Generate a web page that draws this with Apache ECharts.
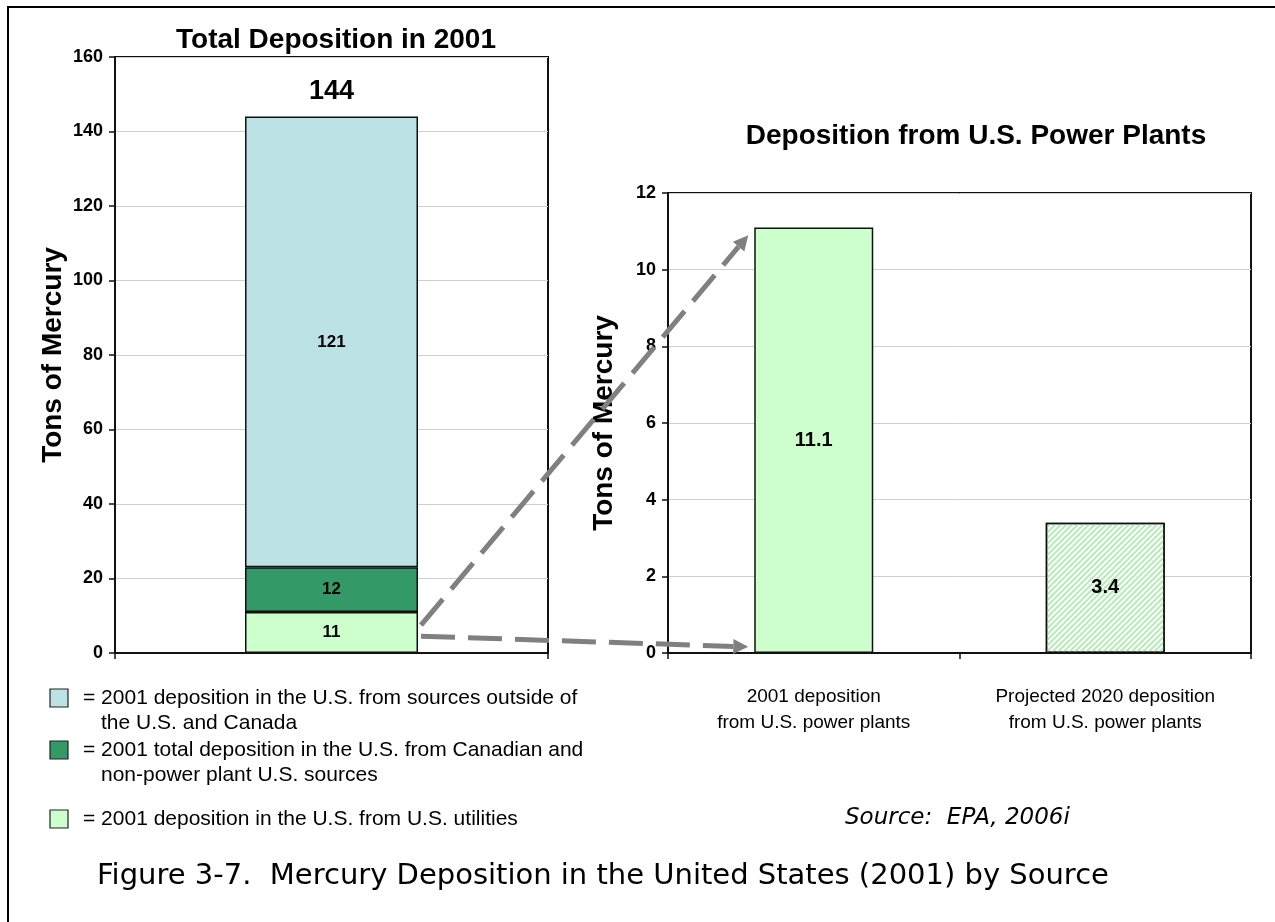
<!DOCTYPE html>
<html>
<head>
<meta charset="utf-8">
<title>Mercury Deposition in the United States (2001) by Source</title>
<script src="https://cdn.jsdelivr.net/npm/echarts@6/dist/echarts.min.js"></script>
<style>
  html, body { margin: 0; padding: 0; background: #fff; }
  #chart { width: 1275px; height: 922px; }
</style>
</head>
<body>
<div id="chart"></div>
<script>
// ---- data -------------------------------------------------------------
const totalCategories = ['2001'];
const outsideUSCanada = [121];      // sources outside the U.S. and Canada
const canadianNonPower = [12];      // Canadian and non-power plant U.S. sources
const usUtilities = [11];           // U.S. utilities

const plantCategories = [
  '2001 deposition\nfrom U.S. power plants',
  'Projected 2020 deposition\nfrom U.S. power plants'
];
const plantDeposition = [11.1, 3.4];

const leftAxisMax = 160, leftAxisStep = 20;
const rightAxisMax = 12, rightAxisStep = 2;

const legendLines = [
  ['= 2001 deposition in the U.S. from sources outside of', 'the U.S. and Canada'],
  ['= 2001 total deposition in the U.S. from Canadian and', 'non-power plant U.S. sources'],
  ['= 2001 deposition in the U.S. from U.S. utilities']
];
const sourceNote = 'Source:  EPA, 2006i';
const figureCaption = 'Figure 3-7.  Mercury Deposition in the United States (2001) by Source';

// ---- styles -----------------------------------------------------------
const COLORS = { outside: '#bde2e5', canadian: '#339966', utilities: '#ccffcc', hatch: '#b5ebb5' };
const SANS = '"Liberation Sans", Arial, sans-serif';
const VERDANA = '"DejaVu Sans", Verdana, sans-serif';

const totals = totalCategories.map((_, i) => outsideUSCanada[i] + canadianNonPower[i] + usUtilities[i]);

const chart = echarts.init(document.getElementById('chart'), null, { renderer: 'canvas' });

function valueAxis(gridIndex, max, step) {
  return {
    type: 'value', gridIndex, min: 0, max, interval: step,
    name: 'Tons of Mercury', nameLocation: 'middle',
    nameGap: gridIndex === 0 ? 48 : 50,
    nameTextStyle: { fontFamily: SANS, fontWeight: 'bold', fontSize: 28, color: '#000' },
    axisLine: { show: true, lineStyle: { color: '#111', width: 2 } },
    axisTick: { show: true, length: 6, lineStyle: { color: '#111', width: 1.5 } },
    axisLabel: { fontFamily: SANS, fontWeight: 'bold', fontSize: 18, color: '#000', margin: 12 },
    splitLine: { show: true, lineStyle: { color: '#cfcfcf', width: 1 } }
  };
}

function categoryAxis(gridIndex, data, showLabels) {
  return {
    type: 'category', gridIndex, data,
    axisLine: { show: true, lineStyle: { color: '#111', width: 2 } },
    axisTick: { show: true, length: 6, alignWithLabel: false, lineStyle: { color: '#111', width: 1.5 } },
    axisLabel: {
      show: showLabels, fontFamily: SANS, fontSize: 19, color: '#000',
      lineHeight: 26, margin: 31
    }
  };
}

const barBorder = { borderColor: '#111', borderWidth: 1.5 };
const innerLabel = { show: true, position: 'inside', fontFamily: SANS, fontWeight: 'bold', fontSize: 17, color: '#000' };
const plantLabel = Object.assign({}, innerLabel, { fontSize: 20 });
const titleStyle = { fontFamily: SANS, fontWeight: 'bold', fontSize: 28, color: '#000' };

chart.setOption({
  animation: false,
  backgroundColor: '#fff',
  title: [
    { text: 'Total Deposition in 2001', left: 331, top: 21, textAlign: 'center', textStyle: titleStyle },
    { text: 'Deposition from U.S. Power Plants', left: 971, top: 117, textAlign: 'center', textStyle: titleStyle }
  ],
  grid: [
    { left: 115, top: 57, width: 433, height: 596, show: true, borderColor: '#111', borderWidth: 2, backgroundColor: 'transparent' },
    { left: 668, top: 193, width: 583, height: 460, show: true, borderColor: '#111', borderWidth: 2, backgroundColor: 'transparent' }
  ],
  xAxis: [
    categoryAxis(0, totalCategories, false),
    categoryAxis(1, plantCategories, true)
  ],
  yAxis: [
    valueAxis(0, leftAxisMax, leftAxisStep),
    valueAxis(1, rightAxisMax, rightAxisStep)
  ],
  series: [
    {
      name: 'U.S. utilities', type: 'bar', xAxisIndex: 0, yAxisIndex: 0, stack: 'total',
      barWidth: 173, data: usUtilities,
      itemStyle: Object.assign({ color: COLORS.utilities }, barBorder), label: innerLabel
    },
    {
      name: 'Canadian and non-power plant U.S. sources', type: 'bar', xAxisIndex: 0, yAxisIndex: 0, stack: 'total',
      barWidth: 173, data: canadianNonPower,
      itemStyle: Object.assign({ color: COLORS.canadian }, barBorder), label: innerLabel
    },
    {
      name: 'Sources outside the U.S. and Canada', type: 'bar', xAxisIndex: 0, yAxisIndex: 0, stack: 'total',
      barWidth: 173, data: outsideUSCanada,
      itemStyle: Object.assign({ color: COLORS.outside }, barBorder), label: innerLabel
    },
    {
      // total printed above the stacked column
      name: 'Total', type: 'scatter', xAxisIndex: 0, yAxisIndex: 0,
      symbolSize: 0, data: totals, silent: true,
      itemStyle: { opacity: 1 },
      label: { show: true, position: 'top', distance: 12, fontFamily: SANS, fontWeight: 'bold', fontSize: 27, color: '#000' }
    },
    {
      name: 'U.S. power plants', type: 'bar', xAxisIndex: 1, yAxisIndex: 1,
      barWidth: 119,
      data: plantDeposition.map((v, i) => i === 0
        ? { value: v, itemStyle: Object.assign({ color: COLORS.utilities }, barBorder) }
        : {
            value: v,
            itemStyle: Object.assign({
              color: '#ffffff',
              decal: {
                symbol: 'rect', symbolSize: 1,
                dashArrayX: [[1, 0]], dashArrayY: [2, 2],
                rotation: -Math.PI / 4, color: COLORS.hatch
              }
            }, barBorder)
          }),
      label: plantLabel
    }
  ]
});

// ---- annotations: legend, notes, frame and the dashed call-out arrows ----
function arrow(from, to) {
  const dx = to[0] - from[0], dy = to[1] - from[1];
  const len = Math.sqrt(dx * dx + dy * dy);
  const ux = dx / len, uy = dy / len;
  const head = 15, half = 7.5;
  const base = [to[0] - ux * head, to[1] - uy * head];
  const nx = -uy, ny = ux;
  return [
    {
      type: 'line', silent: true, z: 50,
      shape: { x1: from[0], y1: from[1], x2: base[0], y2: base[1] },
      style: { stroke: '#808080', lineWidth: 5, lineDash: [34, 13] }
    },
    {
      type: 'polygon', silent: true, z: 50,
      shape: { points: [to, [base[0] + nx * half, base[1] + ny * half], [base[0] - nx * half, base[1] - ny * half]] },
      style: { fill: '#808080' }
    }
  ];
}

function drawAnnotations() {
  const totalCenter = chart.convertToPixel({ gridIndex: 0 }, [0, 0]);
  const leftEdgeX = totalCenter[0] + 173 / 2 + 3;
  const plantCenter = chart.convertToPixel({ gridIndex: 1 }, [0, 0]);
  const plantLeftX = plantCenter[0] - 119 / 2 - 6;

  const upperStart = [leftEdgeX, chart.convertToPixel({ gridIndex: 0 }, [0, 7.5])[1]];
  const lowerStart = [leftEdgeX, chart.convertToPixel({ gridIndex: 0 }, [0, 4.5])[1]];
  const upperEnd = [plantLeftX, chart.convertToPixel({ gridIndex: 1 }, [0, 10.9])[1]];
  const lowerEnd = [plantLeftX, chart.convertToPixel({ gridIndex: 1 }, [0, 0.16])[1]];

  const legendColors = [COLORS.outside, COLORS.canadian, COLORS.utilities];
  const legendTops = [689, 741, 810];
  const legendItems = [];
  legendLines.forEach((lines, i) => {
    const top = legendTops[i];
    legendItems.push({
      type: 'rect', silent: true,
      shape: { x: 50, y: top, width: 18, height: 18 },
      style: { fill: legendColors[i], stroke: '#222', lineWidth: 1.2 }
    });
    lines.forEach((t, j) => {
      legendItems.push({
        type: 'text', silent: true,
        x: j === 0 ? 83 : 101, y: top + 9 + j * 25,
        style: { text: t, font: '21px ' + SANS, fill: '#000', verticalAlign: 'middle' }
      });
    });
  });

  chart.setOption({
    graphic: [
      {
        type: 'rect', silent: true, z: -1,
        shape: { x: 8, y: 7, width: 1400, height: 1000 },
        style: { fill: 'transparent', stroke: '#000', lineWidth: 2 }
      },
      ...legendItems,
      {
        type: 'text', silent: true, x: 845, y: 818,
        style: { text: sourceNote, font: 'italic 23px ' + VERDANA, fill: '#000', verticalAlign: 'middle' }
      },
      {
        type: 'text', silent: true, x: 97, y: 876,
        style: { text: figureCaption, font: '29px ' + VERDANA, fill: '#000', verticalAlign: 'middle' }
      },
      ...arrow(upperStart, upperEnd),
      ...arrow(lowerStart, lowerEnd)
    ]
  });
}

drawAnnotations();
</script>
</body>
</html>
